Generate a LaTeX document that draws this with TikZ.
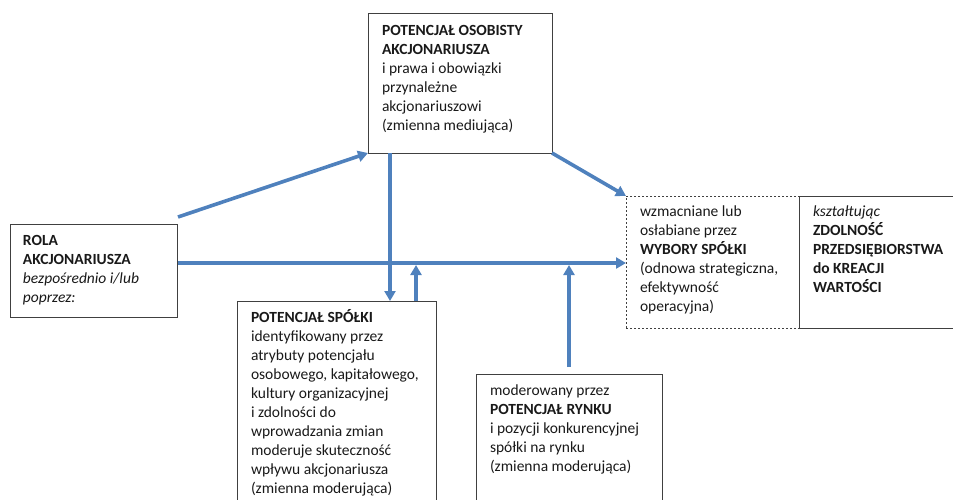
\documentclass[tikz,border=0pt]{standalone}
\usepackage{fontspec}
\setmainfont{Carlito}
\usetikzlibrary{arrows.meta,calc}
\definecolor{arrowblue}{HTML}{4F81BD}
\definecolor{boxline}{HTML}{404040}
\begin{document}
\begin{tikzpicture}[x=1pt,y=-1pt,
  box/.style={draw=boxline,line width=0.9pt,anchor=north west,inner sep=0,outer sep=0},
  dbox/.style={box,dash pattern=on 2pt off 2pt},
  txt/.style={anchor=base west,inner sep=0,outer sep=0,text=black!90},
  arr/.style={draw=arrowblue,line width=3.6pt,-{Triangle[length=10pt,width=11pt]}}]
\useasboundingbox (0,0) rectangle (953,499);
\clip (0,0) rectangle (953,499);
\newcommand{\tf}{\fontsize{15.5}{19}\selectfont}
% boxes
\node[box,minimum width=167pt,minimum height=93pt] (rola) at (10,224) {};
\node[box,minimum width=184pt,minimum height=140pt] (top) at (368,13) {};
\node[box,minimum width=199pt,minimum height=210pt] (spolki) at (237,301) {};
\node[box,minimum width=186pt,minimum height=140pt] (rynku) at (476,374) {};
\node[dbox,minimum width=173pt,minimum height=132pt] (wybory) at (626,196) {};
\node[box,minimum width=170pt,minimum height=132pt] (zdol) at (799,196) {};
% texts
\node[txt] (rolaT) at (23,245) {\parbox[t]{160pt}{\tf\raggedright
\textbf{ROLA}\\\textbf{AKCJONARIUSZA}\\\textit{bezpośrednio i/lub}\\\textit{poprzez:}}};
\node[txt] (topT) at (382,35) {\parbox[t]{170pt}{\tf\raggedright
\textbf{POTENCJAŁ OSOBISTY}\\\textbf{AKCJONARIUSZA}\\i prawa i obowiązki\\przynależne\\akcjonariuszowi\\(zmienna mediująca)}};
\node[txt] (spolkiT) at (251,322) {\parbox[t]{190pt}{\tf\raggedright
\textbf{POTENCJAŁ SPÓŁKI}\\identyfikowany przez\\atrybuty potencjału\\osobowego, kapitałowego,\\kultury organizacyjnej\\i zdolności do\\wprowadzania zmian\\moderuje skuteczność\\wpływu akcjonariusza\\(zmienna moderująca)}};
\node[txt] (rynkuT) at (490,395) {\parbox[t]{180pt}{\tf\raggedright
moderowany przez\\\textbf{POTENCJAŁ RYNKU}\\i pozycji konkurencyjnej\\spółki na rynku\\(zmienna moderująca)}};
\node[txt] (wyboryT) at (640,216) {\parbox[t]{160pt}{\tf\raggedright
wzmacniane lub\\osłabiane przez\\\textbf{WYBORY SPÓŁKI}\\(odnowa strategiczna,\\efektywność\\operacyjna)}};
\node[txt] (zdolT) at (813,216) {\parbox[t]{160pt}{\tf\raggedright
\textit{kształtując}\\\textbf{ZDOLNOŚĆ}\\\textbf{PRZEDSIĘBIORSTWA}\\\textbf{do KREACJI}\\\textbf{WARTOŚCI}}};
% connector helper coordinates
\coordinate (rolaUp) at (178,217);
\coordinate (rolaMid) at (178,263);
\coordinate (topDown) at (390,153);
\coordinate (spolkiIn) at (390,301);
\coordinate (spolkiOut) at (416,301);
\coordinate (joinA) at (416,265);
\coordinate (rynkuOut) at (569,367);
\coordinate (joinB) at (569,265);
% connectors
\draw[arr] (rolaUp) -- (top.south west);
\draw[arr] (rolaMid) -- (rolaMid -| wybory.west);
\draw[arr] (topDown) -- (spolkiIn);
\draw[arr] (spolkiOut) -- (joinA);
\draw[arr] (top.south east) -- (wybory.north west);
\draw[arr] (rynkuOut) -- (joinB);
\end{tikzpicture}
\end{document}
